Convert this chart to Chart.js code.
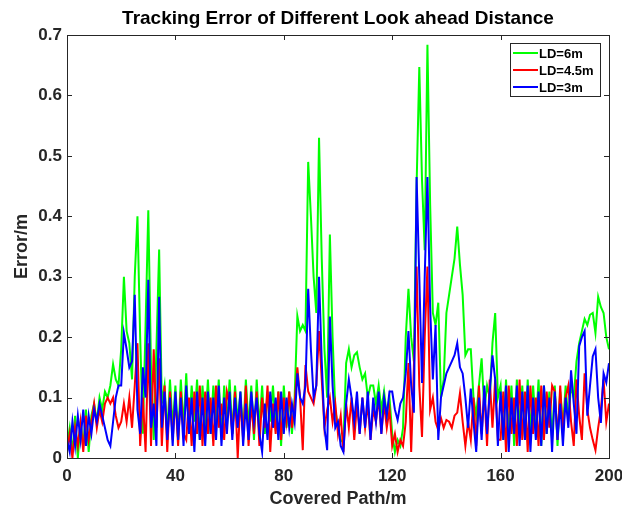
<!DOCTYPE html>
<html>
<head>
<meta charset="utf-8">
<title>Tracking Error of Different Look ahead Distance</title>
<script src="https://cdn.jsdelivr.net/npm/chart.js@4.4.1/dist/chart.umd.min.js"></script>
<style>
  html, body { margin: 0; padding: 0; background: #fff; }
  #wrap { width: 622px; height: 510px; position: relative; }
</style>
</head>
<body>
<div id="wrap"><canvas id="chart"></canvas></div>
<script>
// Covered path (m) at each sample
const pathM = [
  0, 1, 2, 3, 4, 5, 6, 7, 8, 9, 10, 11, 12, 13, 14, 15, 16, 17, 18, 19,
  20, 21, 22, 23, 24, 25, 26, 27, 28, 29, 30, 31, 32, 33, 34, 35, 36, 37, 38, 39,
  40, 41, 42, 43, 44, 45, 46, 47, 48, 49, 50, 51, 52, 53, 54, 55, 56, 57, 58, 59,
  60, 61, 62, 63, 64, 65, 66, 67, 68, 69, 70, 71, 72, 73, 74, 75, 76, 77, 78, 79,
  80, 81, 82, 83, 84, 85, 86, 87, 88, 89, 90, 91, 92, 93, 94, 95, 96, 97, 98, 99,
  100, 101, 102, 103, 104, 105, 106, 107, 108, 109, 110, 111, 112, 113, 114, 115, 116, 117, 118, 119,
  120, 121, 122, 123, 124, 125, 126, 127, 128, 129, 130, 131, 132, 133, 134, 135, 136, 137, 138, 139,
  140, 141, 142, 143, 144, 145, 146, 147, 148, 149, 150, 151, 152, 153, 154, 155, 156, 157, 158, 159,
  160, 161, 162, 163, 164, 165, 166, 167, 168, 169, 170, 171, 172, 173, 174, 175, 176, 177, 178, 179,
  180, 181, 182, 183, 184, 185, 186, 187, 188, 189, 190, 191, 192, 193, 194, 195, 196, 197, 198, 199,
  200
];

// Tracking error (m), LD = 6m
const errLD6 = [
  0.02, 0.05, 0.01, 0.07, 0.00, 0.06, 0.02, 0.08, 0.01, 0.07,
  0.09, 0.06, 0.10, 0.08, 0.11, 0.10, 0.12, 0.155, 0.13, 0.12,
  0.18, 0.30, 0.21, 0.19, 0.13, 0.30, 0.40, 0.20, 0.04, 0.22,
  0.41, 0.15, 0.03, 0.18, 0.345, 0.09, 0.12, 0.04, 0.13, 0.05,
  0.12, 0.03, 0.13, 0.05, 0.14, 0.04, 0.12, 0.06, 0.13, 0.03,
  0.12, 0.05, 0.13, 0.04, 0.12, 0.06, 0.13, 0.03, 0.12, 0.05,
  0.13, 0.04, 0.12, 0.06, 0.11, 0.04, 0.13, 0.05, 0.12, 0.03,
  0.13, 0.05, 0.12, 0.04, 0.11, 0.06, 0.12, 0.05, 0.11, 0.02,
  0.12, 0.05, 0.11, 0.04, 0.10, 0.235, 0.21, 0.22, 0.21, 0.49,
  0.40, 0.30, 0.24, 0.53, 0.33, 0.18, 0.10, 0.37, 0.20, 0.08,
  0.05, 0.03, 0.025, 0.157, 0.18, 0.15, 0.17, 0.175, 0.15, 0.13,
  0.14, 0.10, 0.12, 0.12, 0.09, 0.12, 0.08, 0.11, 0.07, 0.10,
  0.04, 0.01, 0.03, 0.02, 0.05, 0.20, 0.28, 0.20, 0.16, 0.45,
  0.647, 0.46, 0.344, 0.684, 0.42, 0.24, 0.22, 0.257, 0.10, 0.13,
  0.24, 0.27, 0.30, 0.33, 0.383, 0.32, 0.27, 0.17, 0.18, 0.18,
  0.10, 0.07, 0.12, 0.165, 0.08, 0.12, 0.10, 0.19, 0.24, 0.10,
  0.12, 0.03, 0.13, 0.04, 0.12, 0.02, 0.13, 0.05, 0.12, 0.03,
  0.13, 0.04, 0.12, 0.05, 0.13, 0.02, 0.12, 0.04, 0.11, 0.03,
  0.12, 0.02, 0.11, 0.05, 0.12, 0.06, 0.12, 0.10, 0.16, 0.19,
  0.21, 0.23, 0.22, 0.237, 0.24, 0.207, 0.267, 0.25, 0.24, 0.20,
  0.18
];

// Tracking error (m), LD = 4.5m
const errLD45 = [
  0.01, 0.04, 0.00, 0.05, 0.02, 0.06, 0.01, 0.07, 0.03, 0.06,
  0.09, 0.05, 0.08, 0.06, 0.09, 0.10, 0.09, 0.10, 0.07, 0.05,
  0.06, 0.09, 0.06, 0.10, 0.05, 0.12, 0.19, 0.02, 0.10, 0.01,
  0.19, 0.02, 0.18, 0.05, 0.165, 0.02, 0.12, 0.01, 0.11, 0.03,
  0.10, 0.02, 0.11, 0.04, 0.03, 0.10, 0.02, 0.11, 0.04, 0.12,
  0.02, 0.11, 0.04, 0.10, 0.02, 0.12, 0.05, 0.09, 0.03, 0.11,
  0.09, 0.04, 0.11, 0.00, 0.10, 0.03, 0.12, 0.02, 0.09, 0.04,
  0.11, 0.02, 0.10, 0.05, 0.12, 0.01, 0.09, 0.04, 0.11, 0.03,
  0.10, 0.06, 0.11, 0.05, 0.09, 0.15, 0.10, 0.013, 0.154, 0.11,
  0.10, 0.09, 0.12, 0.21, 0.13, 0.05, 0.08, 0.10, 0.06, 0.09,
  0.04, 0.07, 0.01, 0.09, 0.05, 0.10, 0.03, 0.09, 0.04, 0.10,
  0.05, 0.09, 0.03, 0.08, 0.06, 0.10, 0.04, 0.09, 0.05, 0.08,
  0.02, 0.04, 0.01, 0.03, 0.02, 0.06, 0.157, 0.01, 0.15, 0.317,
  0.12, 0.035, 0.20, 0.317, 0.08, 0.10, 0.06, 0.046, 0.066, 0.05,
  0.063, 0.06, 0.05, 0.07, 0.075, 0.107, 0.06, 0.02, 0.06, 0.03,
  0.10, 0.02, 0.12, 0.04, 0.11, 0.02, 0.13, 0.05, 0.13, 0.03,
  0.03, 0.11, 0.01, 0.12, 0.04, 0.10, 0.02, 0.13, 0.03, 0.11,
  0.01, 0.12, 0.04, 0.10, 0.02, 0.12, 0.03, 0.11, 0.05, 0.12,
  0.11, 0.03, 0.12, 0.04, 0.10, 0.12, 0.06, 0.02, 0.13, 0.07,
  0.03, 0.14, 0.08, 0.05, 0.03, 0.013, 0.05, 0.08, 0.13, 0.06,
  0.09
];

// Tracking error (m), LD = 3m
const errLD3 = [
  0.03, 0.01, 0.06, 0.02, 0.07, 0.03, 0.08, 0.02, 0.07, 0.04,
  0.08, 0.06, 0.09, 0.07, 0.05, 0.03, 0.02, 0.06, 0.10, 0.12,
  0.12, 0.207, 0.18, 0.15, 0.16, 0.27, 0.08, 0.04, 0.15, 0.10,
  0.295, 0.05, 0.09, 0.02, 0.267, 0.05, 0.11, 0.03, 0.10, 0.02,
  0.11, 0.03, 0.10, 0.02, 0.12, 0.04, 0.10, 0.01, 0.11, 0.03,
  0.10, 0.02, 0.11, 0.04, 0.10, 0.03, 0.12, 0.02, 0.10, 0.04,
  0.11, 0.03, 0.10, 0.05, 0.11, 0.02, 0.09, 0.03, 0.11, 0.06,
  0.10, 0.04, 0.01, 0.09, 0.03, 0.11, 0.05, 0.10, 0.03, 0.11,
  0.04, 0.10, 0.05, 0.09, 0.06, 0.14, 0.10, 0.09, 0.12, 0.28,
  0.18, 0.10, 0.12, 0.30, 0.16, 0.05, 0.013, 0.234, 0.12, 0.05,
  0.06, 0.02, 0.01, 0.09, 0.13, 0.10, 0.06, 0.11, 0.04, 0.10,
  0.05, 0.11, 0.03, 0.10, 0.06, 0.11, 0.04, 0.10, 0.07, 0.11,
  0.11, 0.08, 0.063, 0.09, 0.10, 0.14, 0.21, 0.12, 0.075, 0.465,
  0.30, 0.124, 0.30, 0.465, 0.25, 0.13, 0.22, 0.03, 0.10, 0.12,
  0.14, 0.15, 0.16, 0.17, 0.19, 0.15, 0.14, 0.10, 0.05, 0.115,
  0.06, 0.01, 0.10, 0.03, 0.12, 0.04, 0.11, 0.17, 0.13, 0.02,
  0.11, 0.03, 0.12, 0.01, 0.10, 0.04, 0.12, 0.02, 0.11, 0.03,
  0.12, 0.01, 0.10, 0.03, 0.11, 0.02, 0.12, 0.04, 0.10, 0.01,
  0.11, 0.03, 0.09, 0.02, 0.10, 0.05, 0.145, 0.09, 0.04, 0.185,
  0.20, 0.21, 0.07, 0.12, 0.168, 0.18, 0.10, 0.058, 0.14, 0.125,
  0.157
];

const seriesLabels = ["LD=6m", "LD=4.5m", "LD=3m"];
const seriesColors = ["#00ff00", "#ff0000", "#0000ff"];

const FONT = "'Liberation Sans', Arial, Helvetica, sans-serif";
const INK = "#262626";

function points(ys) {
  return ys.map((y, i) => ({ x: pathM[i], y: y }));
}

// Title centred over the plot box (MATLAB style)
const boxTitle = {
  id: "boxTitle",
  afterDraw(chart) {
    const { ctx, chartArea } = chart;
    ctx.save();
    ctx.font = "bold 19px " + FONT;
    ctx.fillStyle = "#000";
    ctx.textAlign = "center";
    ctx.textBaseline = "middle";
    ctx.fillText("Tracking Error of Different Look ahead Distance",
      (chartArea.left + chartArea.right) / 2, 19);
    ctx.restore();
  },
};

// Full box with inward ticks on all four sides
const boxAxes = {
  id: "boxAxes",
  afterDatasetsDraw(chart) {
    const { ctx, chartArea: a, scales } = chart;
    const len = 5;
    ctx.save();
    ctx.strokeStyle = INK;
    ctx.lineWidth = 1;
    ctx.beginPath();
    scales.x.ticks.forEach((t) => {
      const px = Math.round(scales.x.getPixelForValue(t.value)) + 0.5;
      ctx.moveTo(px, a.bottom);
      ctx.lineTo(px, a.bottom - len);
      ctx.moveTo(px, a.top);
      ctx.lineTo(px, a.top + len);
    });
    scales.y.ticks.forEach((t) => {
      const py = Math.round(scales.y.getPixelForValue(t.value)) + 0.5;
      ctx.moveTo(a.left, py);
      ctx.lineTo(a.left + len, py);
      ctx.moveTo(a.right, py);
      ctx.lineTo(a.right - len, py);
    });
    ctx.stroke();
    ctx.strokeRect(Math.round(a.left) + 0.5, Math.round(a.top) + 0.5,
      Math.round(a.right - a.left), Math.round(a.bottom - a.top));
    ctx.restore();
  },
};

// Legend box inside the top-right corner
const boxLegend = {
  id: "boxLegend",
  afterDraw(chart) {
    const { ctx, chartArea: a } = chart;
    const w = 90, rowH = 17;
    const x0 = a.right - 9 - w, y0 = a.top + 8;
    const h = rowH * seriesLabels.length + 2;
    ctx.save();
    ctx.fillStyle = "#fff";
    ctx.fillRect(x0, y0, w, h);
    ctx.strokeStyle = INK;
    ctx.lineWidth = 1;
    ctx.strokeRect(Math.round(x0) + 0.5, Math.round(y0) + 0.5, w, h);
    ctx.font = "bold 13px " + FONT;
    ctx.textBaseline = "middle";
    ctx.textAlign = "left";
    seriesLabels.forEach((lab, i) => {
      const cy = y0 + 10 + i * rowH;
      ctx.strokeStyle = seriesColors[i];
      ctx.lineWidth = 2;
      ctx.beginPath();
      ctx.moveTo(x0 + 3, cy);
      ctx.lineTo(x0 + 28, cy);
      ctx.stroke();
      ctx.fillStyle = "#000";
      ctx.fillText(lab, x0 + 29, cy + 1);
    });
    ctx.restore();
  },
};

const series = [errLD6, errLD45, errLD3];

new Chart(document.getElementById("chart"), {
  type: "line",
  data: {
    datasets: series.map((ys, i) => ({
      label: seriesLabels[i],
      data: points(ys),
      borderColor: seriesColors[i],
      backgroundColor: seriesColors[i],
      borderWidth: 2,
      pointRadius: 0,
      tension: 0,
      fill: false,
      order: 3 - i,
    })),
  },
  options: {
    responsive: true,
    maintainAspectRatio: false,
    animation: false,
    devicePixelRatio: 1,
    layout: { padding: { top: 35, right: 0, left: 0, bottom: 0 } },
    plugins: {
      legend: { display: false },
      tooltip: { enabled: false },
      title: { display: false },
    },
    scales: {
      x: {
        type: "linear",
        min: 0,
        max: 200,
        grid: { display: false, drawTicks: false },
        border: { display: false },
        ticks: {
          stepSize: 40,
          color: INK,
          padding: 8,
          maxRotation: 0,
          font: { family: FONT, size: 17, weight: "bold" },
        },
        title: {
          display: true,
          text: "Covered Path/m",
          color: INK,
          padding: { top: 0, bottom: 0 },
          font: { family: FONT, size: 18, weight: "bold" },
        },
        afterFit(scale) {
          scale.height = 52;
          scale.paddingLeft = 0;
          scale.paddingRight = 13;
        },
      },
      y: {
        type: "linear",
        min: 0,
        max: 0.7,
        grid: { display: false, drawTicks: false },
        border: { display: false },
        ticks: {
          stepSize: 0.1,
          color: INK,
          padding: 5,
          font: { family: FONT, size: 17, weight: "bold" },
          callback: (v) => String(+v.toFixed(1)),
        },
        title: {
          display: true,
          text: "Error/m",
          color: INK,
          padding: { top: 11, bottom: 0 },
          font: { family: FONT, size: 18, weight: "bold" },
        },
        afterFit(scale) { scale.width = 67; },
      },
    },
  },
  plugins: [boxAxes, boxLegend, boxTitle],
});
</script>
</body>
</html>
